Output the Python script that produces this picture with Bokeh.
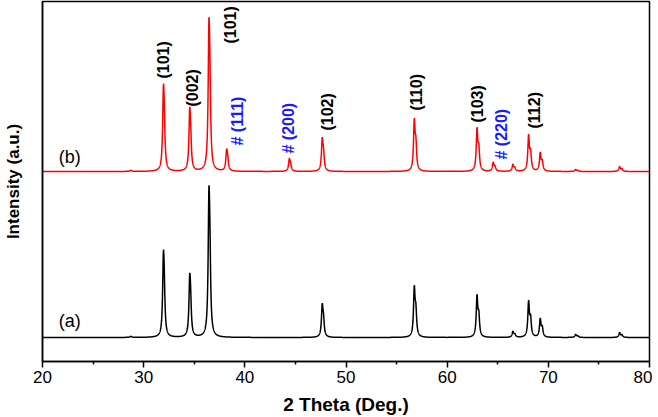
import numpy as np
from bokeh.plotting import figure
from bokeh.models import Range1d, FixedTicker
from bokeh.core.properties import value
from bokeh.embed import file_html
from bokeh.resources import INLINE

# ---- data ----
# peak positions (2 theta, deg) and heights (arbitrary units, above baseline)
pos_a = [28.7, 31.95, 34.55, 36.45, 47.65, 56.75, 62.95, 66.5, 68.05, 69.2, 72.7, 77.05]
hgt_a = [1.0, 86, 63, 150, 34, 52, 43, 6, 37, 19, 3, 5]
base_a = 24

pos_b = [28.7, 31.95, 34.55, 36.45, 38.2, 44.4, 47.65, 56.75, 62.95, 64.55, 66.5, 68.05, 69.2, 72.7, 77.05]
hgt_b = [1.0, 86, 63, 152, 22, 13, 34, 53, 44, 9, 7, 37, 19, 2, 5]
base_b = 190

# peak annotations: text, x (deg), y start (intensity units), colour group
lab_text = ["(101)", "(002)", "(101)", "# (111)", "# (200)", "(102)", "(110)", "(103)", "# (220)", "(112)"]
lab_x = [31.95, 34.85, 38.6, 39.3, 44.35, 48.15, 57.0, 63.0, 65.4, 68.6]
lab_y = [283, 255, 318, 216, 208, 231, 251, 239, 202, 233]
lab_blue = [False, False, False, True, True, False, False, False, True, False]

x_ticks = [20, 30, 40, 50, 60, 70, 80]
x_minor = [25, 35, 45, 55, 65, 75]

# ---- profile built from the peak list (Lorentzian with K-alpha2 shoulder) ----
theta = np.arange(20.0, 80.001, 0.01)
GAM = 0.09


def pattern(pos, hgt, base):
    y = np.full_like(theta, float(base))
    for p, h in zip(pos, hgt):
        d = np.degrees(2 * np.tan(np.radians(p / 2)) * 0.0025)
        norm = 1.0 + 0.5 / (1 + (d / GAM) ** 2)
        y += (h / norm) * (1 / (1 + ((theta - p) / GAM) ** 2)
                           + 0.5 / (1 + ((theta - p - d) / GAM) ** 2))
    return y


ya = pattern(pos_a, hgt_a, base_a)
yb = pattern(pos_b, hgt_b, base_b)

p = figure(width=652, height=417, output_backend="svg", toolbar_location=None,
           x_range=Range1d(20, 80), y_range=Range1d(0, 360),
           min_border_top=1, min_border_right=3, min_border_left=42, min_border_bottom=54)
p.grid.visible = False
p.background_fill_color = "white"
p.border_fill_color = "white"
p.outline_line_color = "black"
p.outline_line_width = 1.5

p.line(theta, ya, line_color="black", line_width=1.5)
p.line(theta, yb, line_color="#ff0000", line_width=1.5)

cols = ["#1a1aff" if b else "black" for b in lab_blue]
p.text(x=lab_x, y=lab_y, text=lab_text, angle=np.pi / 2, text_align="left",
       text_baseline="middle", text_color=cols, text_font=value("Liberation Sans"),
       text_font_size="16px", text_font_style="bold")

p.text(x=[21.6], y=[205], text=["(b)"], text_align="left", text_baseline="middle",
       text_font=value("Liberation Sans"), text_font_size="18px", text_color="black")
p.text(x=[21.6], y=[41], text=["(a)"], text_align="left", text_baseline="middle",
       text_font=value("Liberation Sans"), text_font_size="18px", text_color="black")

xa = p.xaxis[0]
xa.ticker = FixedTicker(ticks=x_ticks, minor_ticks=x_minor)
xa.axis_line_width = 1.5
xa.major_tick_line_width = 1.5
xa.minor_tick_line_width = 1.5
xa.major_tick_in = 0
xa.major_tick_out = 6
xa.minor_tick_in = 0
xa.minor_tick_out = 3
xa.major_label_text_font = "Liberation Sans"
xa.major_label_text_font_size = "17px"
xa.major_label_text_color = "black"
xa.major_label_standoff = 3
xa.axis_label = "2 Theta (Deg.)"
xa.axis_label_text_font = "Liberation Sans"
xa.axis_label_text_font_size = "19px"
xa.axis_label_text_font_style = "bold"
xa.axis_label_text_color = "black"
xa.axis_label_standoff = 8

yax = p.yaxis[0]
yax.ticker = FixedTicker(ticks=[])
yax.major_label_text_font_size = "0px"
yax.major_label_standoff = 0
yax.major_tick_out = 0
yax.minor_tick_out = 0
yax.axis_line_width = 1.5
yax.axis_label = "Intensity (a.u.)"
yax.axis_label_text_font = "Liberation Sans"
yax.axis_label_text_font_size = "17px"
yax.axis_label_text_font_style = "bold"
yax.axis_label_text_color = "black"
yax.axis_label_standoff = 20

open("out.html", "w").write(file_html(p, INLINE))
